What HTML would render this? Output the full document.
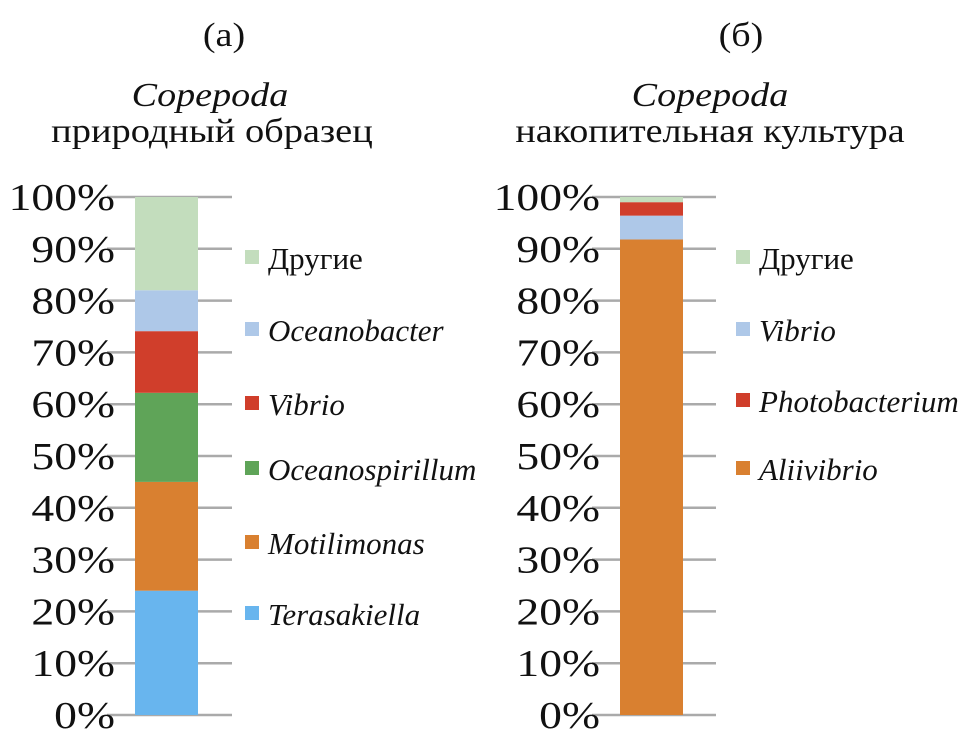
<!DOCTYPE html>
<html><head><meta charset="utf-8"><style>
html,body{margin:0;padding:0;background:#fff;}
svg text{font-family:"Liberation Serif",serif;fill:#111;}
</style></head><body>
<svg id="c" width="971" height="736" xmlns="http://www.w3.org/2000/svg">
<text class="st" data-f="1.12" x="224" y="46" font-size="34" text-anchor="middle">(а)</text>
<text class="st" data-f="1.12" x="210" y="106" font-size="34" font-style="italic" text-anchor="middle">Copepoda</text>
<text class="st" data-f="1.13" x="212" y="142" font-size="34" text-anchor="middle">природный образец</text>
<text class="st" data-f="1.12" x="741" y="46" font-size="34" text-anchor="middle">(б)</text>
<text class="st" data-f="1.12" x="710" y="106" font-size="34" font-style="italic" text-anchor="middle">Copepoda</text>
<text class="st" data-f="1.12" x="710" y="142" font-size="34" text-anchor="middle">накопительная культура</text>
</svg>
<script>
const ticks=[0,10,20,30,40,50,60,70,80,90,100];
const seriesA=["Terasakiella","Motilimonas","Oceanospirillum","Vibrio","Oceanobacter","Другие"];
const valuesA=[24.0,21.0,17.2,11.9,7.9,18.0];
const colorsA=["#68b5ee","#d98030","#5fa458","#d03e2b","#aec8e8","#c3ddbd"];
const legendA=["Другие","Oceanobacter","Vibrio","Oceanospirillum","Motilimonas","Terasakiella"];
const seriesB=["Aliivibrio","Vibrio","Photobacterium","Другие"];
const valuesB=[91.8,4.6,2.6,1.0];
const colorsB=["#d98030","#aec8e8","#d03e2b","#c3ddbd"];
const legendB=["Другие","Vibrio","Photobacterium","Aliivibrio"];
const svg=document.getElementById('c');
const NS="http://www.w3.org/2000/svg";
const y0=715,y1=197;
function yScale(v){return y0-(v/100)*(y0-y1);}
function mk(t,a){const e=document.createElementNS(NS,t);for(const k in a)e.setAttribute(k,a[k]);svg.appendChild(e);return e;}
function panel(p,gx0,gx1,bx,bw,labX,series,values,colors,legend,legX,legYs){
  ticks.forEach(t=>{
    const l=mk('line',{x1:gx0,x2:gx1,y1:yScale(t),y2:yScale(t),stroke:'#aaa','stroke-width':2.5});
    
    
    const tx=mk('text',{x:labX,y:yScale(t)+13,'font-size':38,'text-anchor':'end','class':'st','data-f':'1.2'});
    tx.textContent=t+'%';
    
    
  });
  let cum=0;
  values.forEach((v,i)=>{
    const r=mk('rect',{x:bx,width:bw,y:yScale(cum+v),height:yScale(cum)-yScale(cum+v),fill:colors[i]});
    
    
    cum+=v;
  });
  legend.forEach((name,i)=>{
    const c=colors[series.indexOf(name)];
    const yy=legYs[i];
    const m=mk('rect',{x:legX,y:yy-8,width:14,height:14,fill:c});
    
    
    const t=mk('text',{x:legX+23,y:yy+11,'font-size':31,'class':'st','data-f':'1.0'});
    if(name!=='Другие')t.setAttribute('font-style','italic');
    t.textContent=name;
    
    
  });
}
panel('a',107,232,135,63,115,seriesA,valuesA,colorsA,legendA,245,[258,330,404,469,543,614]);
panel('b',592,716,620,63,600,seriesB,valuesB,colorsB,legendB,736,[258,330,401,469]);
document.querySelectorAll('text.st').forEach(t=>{
  const w=t.getComputedTextLength();
  t.setAttribute('textLength',(w*parseFloat(t.getAttribute('data-f'))).toFixed(1));
  t.setAttribute('lengthAdjust','spacingAndGlyphs');
});
</script>
</body></html>
